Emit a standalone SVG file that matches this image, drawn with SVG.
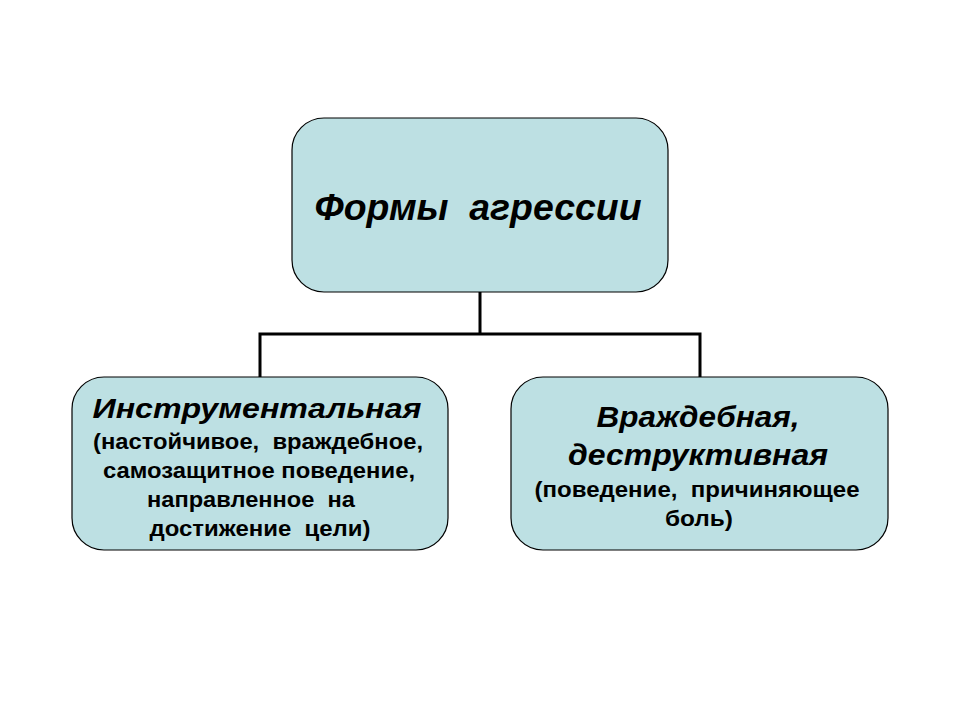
<svg xmlns="http://www.w3.org/2000/svg" width="960" height="720" viewBox="0 0 960 720">
<style>
.box{fill:#BDE0E3;stroke:#000;stroke-width:1.2}
.conn{fill:none;stroke:#000;stroke-width:3}
.t{font-family:"Liberation Sans",Arial,sans-serif;font-weight:bold;text-anchor:middle;fill:#000;white-space:pre}
.h{font-style:italic}
</style>
<rect width="960" height="720" fill="#fff"/>
<g id="connectors">
<path class="conn" d="M480 292V334M260 334H700M260 332.5V377M700 332.5V377"/>
</g>
<g id="root">
<rect class="box" x="292" y="118" width="376" height="174" rx="32"/>
<text class="t h" x="478" y="220" font-size="36" textLength="327" lengthAdjust="spacingAndGlyphs">Формы  агрессии</text>
</g>
<g id="instrumental">
<rect class="box" x="72" y="377" width="376" height="173" rx="32"/>
<text class="t h" x="257" y="418" font-size="28" textLength="329" lengthAdjust="spacingAndGlyphs">Инструментальная</text>
<text class="t" x="258" y="449" font-size="22" textLength="330" lengthAdjust="spacingAndGlyphs">(настойчивое,  враждебное,</text>
<text class="t" x="259" y="478" font-size="22" textLength="312" lengthAdjust="spacingAndGlyphs">самозащитное поведение,</text>
<text class="t" x="251" y="507" font-size="22" textLength="208" lengthAdjust="spacingAndGlyphs">направленное  на</text>
<text class="t" x="260" y="536" font-size="22" textLength="221" lengthAdjust="spacingAndGlyphs">достижение  цели)</text>
</g>
<g id="hostile">
<rect class="box" x="511" y="377" width="377" height="173" rx="32"/>
<text class="t h" x="698" y="427" font-size="29" textLength="203" lengthAdjust="spacingAndGlyphs">Враждебная,</text>
<text class="t h" x="698" y="465" font-size="29" textLength="260" lengthAdjust="spacingAndGlyphs">деструктивная</text>
<text class="t" x="697" y="497" font-size="22" textLength="325" lengthAdjust="spacingAndGlyphs">(поведение,  причиняющее</text>
<text class="t" x="699" y="526" font-size="22" textLength="68" lengthAdjust="spacingAndGlyphs">боль)</text>
</g>
</svg>
